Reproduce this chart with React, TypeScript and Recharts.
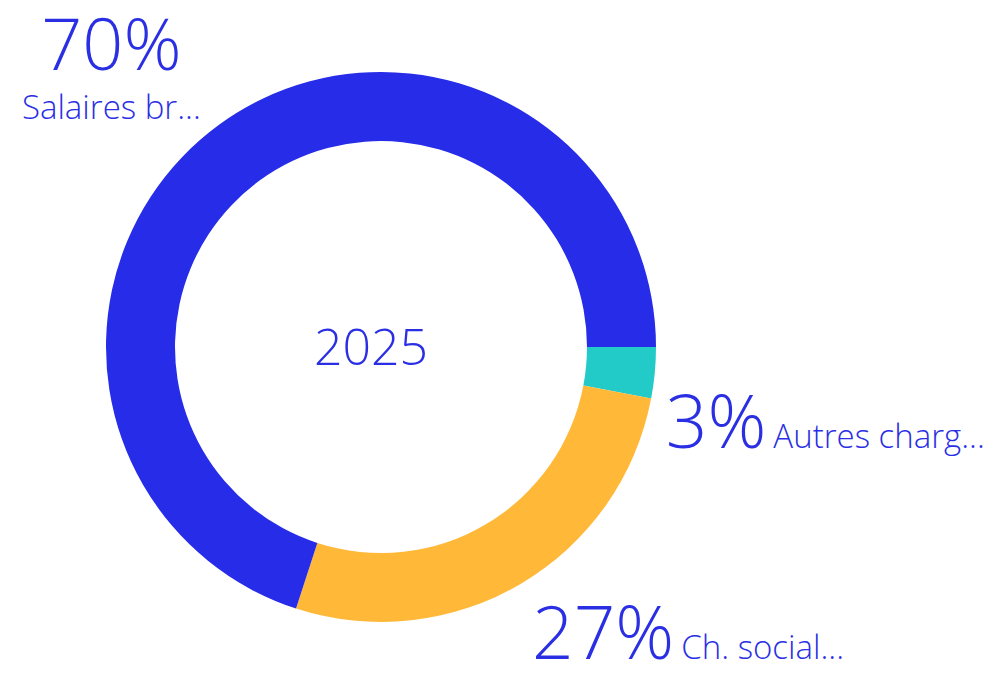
import { PieChart, Pie, Cell } from "recharts";

const categories = ["Autres charges", "Ch. sociales", "Salaires bruts"];
const shortNames = ["Autres charg...", "Ch. social...", "Salaires br..."];
const values = [3, 27, 70];
const colors = ["#22cbc8", "#ffb838", "#262ce8"];
const centerLabel = "2025";

const TEXT = "#2a2fe4";
const FONT = "'Open Sans', 'Noto Sans', sans-serif";

const data = categories.map((name, i) => ({ name, short: shortNames[i], value: values[i] }));
const total = values.reduce((a, b) => a + b, 0);

const RAD = Math.PI / 180;

function renderLabel(props: any) {
  const { cx, cy, midAngle, outerRadius, index } = props;
  const ax = cx + outerRadius * Math.cos(-midAngle * RAD);
  const ay = cy + outerRadius * Math.sin(-midAngle * RAD);
  const pct = Math.round((values[index] / total) * 100) + "%";
  const name = shortNames[index];

  if (ax >= cx) {
    // right side: big percent followed by the name on the same line
    return (
      <text x={ax + 11} y={ay + 75} fill={TEXT} fontFamily={FONT} fontWeight={300} textAnchor="start">
        <tspan fontSize={73}>{pct}</tspan>
        <tspan fontSize={33} dx={7}>{name}</tspan>
      </text>
    );
  }
  // left side: percent stacked above the name
  return (
    <g>
      <text x={ax - 108} y={ay - 55} fill={TEXT} fontFamily={FONT} fontWeight={300} fontSize={72} textAnchor="middle">
        {pct}
      </text>
      <text x={ax - 108} y={ay - 6} fill={TEXT} fontFamily={FONT} fontWeight={300} fontSize={33} textAnchor="middle">
        {name}
      </text>
    </g>
  );
}

export default function App() {
  return (
    <div style={{ position: "absolute", left: 0, top: 0, width: 1001, height: 683, background: "#fff" }}>
      <PieChart width={1001} height={683}>
        <Pie
          data={data}
          dataKey="value"
          nameKey="name"
          cx={376}
          cy={342}
          innerRadius={206}
          outerRadius={275}
          startAngle={0}
          endAngle={-360}
          stroke="none"
          labelLine={false}
          label={renderLabel}
          isAnimationActive={false}
        >
          {data.map((d, i) => (
            <Cell key={d.name} fill={colors[i]} />
          ))}
        </Pie>
        <text x={371} y={365} textAnchor="middle" fill={TEXT} fontFamily={FONT} fontWeight={300} fontSize={50}>
          {centerLabel}
        </text>
      </PieChart>
    </div>
  );
}
